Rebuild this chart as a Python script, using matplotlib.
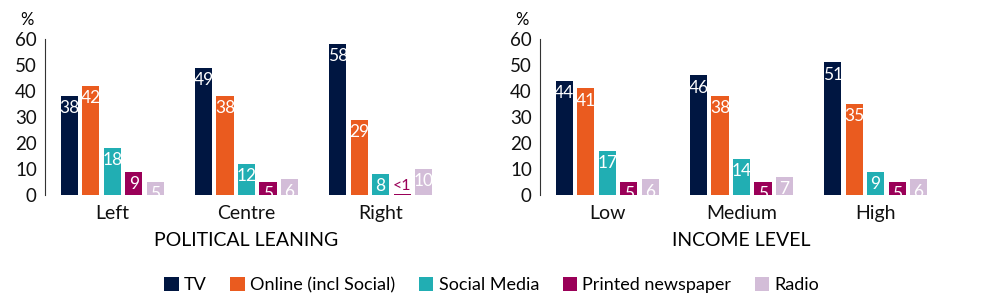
import numpy as np
import matplotlib
matplotlib.use("Agg")
import matplotlib.pyplot as plt
from matplotlib.patches import Patch

plt.rcParams['font.family'] = ['Lato', 'DejaVu Sans']

series = ['TV', 'Online (incl Social)', 'Social Media', 'Printed newspaper', 'Radio']
colors = ['#001641', '#EA5B1F', '#21AEB3', '#9A0058', '#D3BDD8']

political_cats = ['Left', 'Centre', 'Right']
political_vals = [
    [38, 49, 58],   # TV
    [42, 38, 29],   # Online
    [18, 12, 8],    # Social Media
    [9, 5, 0.4],    # Printed newspaper
    [5, 6, 10],     # Radio
]
political_labels = [
    ['38', '49', '58'],
    ['42', '38', '29'],
    ['18', '12', '8'],
    ['9', '5', '<1'],
    ['5', '6', '10'],
]

income_cats = ['Low', 'Medium', 'High']
income_vals = [
    [44, 46, 51],
    [41, 38, 35],
    [17, 14, 9],
    [5, 5, 5],
    [6, 7, 6],
]
income_labels = [[str(v) for v in row] for row in income_vals]

fig = plt.figure(figsize=(10.04, 2.96), dpi=100)
ax1 = fig.add_axes([0.045, 0.341, 0.401, 0.527])
ax2 = fig.add_axes([0.538, 0.341, 0.401, 0.527])

slot = 0.16
width = 0.128


def draw(ax, cats, vals, labels, title):
    x = np.arange(len(cats))
    for i, (row, lab, c) in enumerate(zip(vals, labels, colors)):
        pos = x + (i - 2) * slot
        bars = ax.bar(pos, row, width, color=c, zorder=2)
        for b, v, t in zip(bars, row, lab):
            cx = b.get_x() + b.get_width() / 2
            if v < 1:
                ax.annotate(t, (cx, v), xytext=(0, 1), textcoords='offset points',
                            ha='center', va='bottom', color=c, fontsize=11.5)
            else:
                ax.annotate(t, (cx, v), xytext=(0, -3), textcoords='offset points',
                            ha='center', va='top', color='white', fontsize=12.5)
    ax.set_xlim(-0.5, len(cats) - 0.5)
    ax.set_ylim(0, 60)
    ax.set_yticks(range(0, 61, 10))
    ax.set_xticks(x)
    ax.set_xticklabels(cats, fontsize=14)
    ax.tick_params(axis='both', length=0, colors='#111111')
    ax.tick_params(axis='y', labelsize=13.5, pad=6)
    ax.tick_params(axis='x', pad=7)
    for s in ['top', 'right', 'bottom']:
        ax.spines[s].set_visible(False)
    ax.spines['left'].set_color('#333333')
    ax.set_xlabel(title, fontsize=14, labelpad=7)
    ax.text(-0.045, 1.07, '%', transform=ax.transAxes, fontsize=12,
            ha='center', va='bottom')


draw(ax1, political_cats, political_vals, political_labels, 'POLITICAL LEANING')
draw(ax2, income_cats, income_vals, income_labels, 'INCOME LEVEL')

handles = [Patch(facecolor=c, label=s) for s, c in zip(series, colors)]
fig.legend(handles=handles, loc='center', bbox_to_anchor=(0.49, 0.037), ncol=5,
           frameon=False, fontsize=13, handlelength=0.8, handleheight=0.8,
           handletextpad=0.3, columnspacing=1.3)

fig.savefig('out.png', dpi=100)
